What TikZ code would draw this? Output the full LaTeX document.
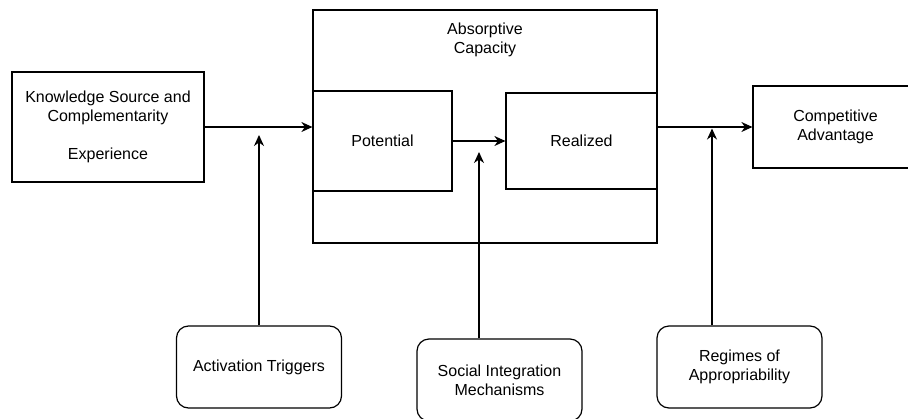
\documentclass[tikz,border=0pt]{standalone}
\usepackage{fontspec}
\setmainfont{Liberation Sans}
\usetikzlibrary{arrows.meta}
\begin{document}
\begin{tikzpicture}[x=1pt,y=-1pt,
  label text/.style={align=center, inner sep=0pt, font=\fontsize{16}{19}\selectfont},
  box/.style={label text, draw, line width=1.2pt, rectangle},
  roundbox/.style={box, rounded corners=12pt, minimum width=165pt, minimum height=82pt},
  flow/.style={draw, line width=1.2pt, -{Stealth[length=11pt,width=10pt,inset=3.5pt]}}
]
\useasboundingbox (0,0) rectangle (908,418);
\clip (0,0) rectangle (908,418);

% container and its two stages
\node[box, minimum width=344pt, minimum height=233pt] (ac) at (485,126.5) {};
\node[label text] (actitle) at (485,39.5) {Absorptive\\Capacity};
\node[box, minimum width=139pt, minimum height=100pt] (pot) at (382.5,141) {Potential};
\node[box, minimum width=151pt, minimum height=96pt] (real) at (581.5,141) {Realized};

% input and outcome
\node[box, minimum width=192pt, minimum height=110pt] (ks) at (108,127)
  {Knowledge Source and\\Complementarity\\[19pt]Experience};
\node[box, minimum width=165pt, minimum height=82pt] (ca) at (835.5,127) {Competitive\\Advantage};

% moderators
\node[roundbox] (at) at (259,367) {Activation Triggers};
\node[roundbox] (si) at (499.5,380) {Social Integration\\Mechanisms};
\node[roundbox] (ra) at (739.5,367) {Regimes of\\Appropriability};

% main flow
\draw[flow] (ks.east) -- (ks.east -| pot.west);
\draw[flow] (pot.east) -- (pot.east -| real.west);
\draw[flow] (real.east |- ca.west) -- (ca.west);

% moderator arrows
\coordinate (atTip) at (259,135);
\coordinate (siTip) at (479,152);
\coordinate (raTip) at (712,128.5);
\draw[flow] (at.north) -- (atTip);
\draw[flow] (siTip |- si.north) -- (siTip);
\draw[flow] (raTip |- ra.north) -- (raTip);
\end{tikzpicture}
\end{document}
